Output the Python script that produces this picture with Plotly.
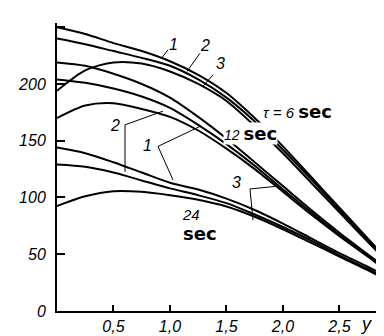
import plotly.graph_objects as go

y_pos = [0, 0.25, 0.5, 0.75, 1.0, 1.25, 1.5, 1.75, 2.0, 2.25, 2.5, 2.75, 2.965]

# tau = 6 sec
t6_c1 = [250, 244, 236, 229, 220, 208, 192, 170, 145, 118, 91, 64, 41]
t6_c2 = [240, 235, 229, 223, 216, 204, 188, 167, 142, 116, 89, 63, 40]
t6_c3 = [194, 212, 219, 218, 211, 200, 185, 163, 139, 113, 87, 61, 39]
# tau = 12 sec
t12_c1 = [219, 216, 209, 200, 188, 171, 152, 131, 110, 89, 69, 50, 34]
t12_c2 = [204, 201, 196, 189, 179, 164, 147, 128, 107, 87, 67, 49, 33]
t12_c3 = [170, 181, 183, 178, 171, 159, 143, 125, 105, 85, 66, 48, 32]
# tau = 24 sec
t24_c1 = [144, 139, 131, 122, 113, 107, 99, 89, 77, 64, 51, 39, 28]
t24_c2 = [129, 127, 122, 115, 108, 102, 95, 85, 74, 62, 49, 37, 26]
t24_c3 = [92.5, 101, 105.5, 105, 102, 98, 92, 83, 72, 60, 48, 36, 25]

x_ticks = [0.5, 1.0, 1.5, 2.0, 2.5]
x_ticktext = ["0,5", "1,0", "1,5", "2,0", "2,5"]
y_ticks = [0, 50, 100, 150, 200, 250]
y_ticktext = ["0", "50", "100", "150", "200", ""]

series = [t6_c1, t6_c2, t6_c3, t12_c1, t12_c2, t12_c3, t24_c1, t24_c2, t24_c3]

fig = go.Figure()
for s in series:
    fig.add_trace(go.Scatter(x=y_pos, y=s, mode="lines",
                             line=dict(color="black", width=2, shape="spline", smoothing=0.8),
                             showlegend=False, hoverinfo="skip"))

FONT = "Liberation Sans, Arial, sans-serif"
tick_font = dict(family=FONT, size=16, color="black", style="italic")

fig.update_layout(
    width=384, height=336,
    margin=dict(l=49, r=0, t=15, b=33),
    paper_bgcolor="white", plot_bgcolor="white",
    xaxis=dict(range=[0, 2.965], showgrid=False, zeroline=False,
               showline=True, linecolor="black", linewidth=2,
               ticks="inside", ticklen=6, tickwidth=1.5, tickcolor="black",
               tickvals=x_ticks, ticktext=x_ticktext, tickfont=tick_font),
    yaxis=dict(range=[0, 253.7], showgrid=False, zeroline=False,
               showline=True, linecolor="black", linewidth=2,
               ticks="inside", ticklen=8, tickwidth=1.5, tickcolor="black",
               tickvals=y_ticks, ticktext=y_ticktext, tickfont=tick_font,
               ticklabelstandoff=6),
)

label_font = dict(family=FONT, size=16, color="black", style="italic")

num_labels = [
    ("1", 1.035, 235), ("2", 1.31, 234), ("3", 1.443, 217.6),
    ("2", 0.513, 163), ("1", 0.805, 146), ("3", 1.593, 112.8),
]
for t, x, y in num_labels:
    fig.add_annotation(x=x, y=y, text=t, showarrow=False, font=label_font)

leaders = [
    (0.982, 230, 0.920, 222),
    (1.265, 227, 1.150, 211),
    (1.381, 208, 1.292, 198),
    (0.602, 164, 0.938, 176),
    (0.602, 164, 0.602, 122.5),
    (0.894, 145, 1.274, 163),
    (0.894, 145, 1.027, 115.4),
    (1.708, 107.5, 1.956, 110),
    (1.708, 107.5, 1.735, 80),
]
for x0, y0, x1, y1 in leaders:
    fig.add_shape(type="line", x0=x0, y0=y0, x1=x1, y1=y1,
                  line=dict(color="black", width=1))

sec = "<span style='font-family:DejaVu Sans, sans-serif;font-size:18px'><b>sec</b></span>"
fig.add_annotation(x=2.13, y=176, showarrow=False,
                   text="<i>τ = 6</i> " + sec, font=dict(family=FONT, size=15, color="black"))
fig.add_annotation(x=1.71, y=156, showarrow=False, bgcolor="white", borderpad=0,
                   text="<i>12</i> " + sec, font=dict(family=FONT, size=14, color="black"))
fig.add_annotation(x=1.09, y=76, showarrow=False, xanchor="left", align="left",
                   text="<i>24</i><br>" + sec, font=dict(family=FONT, size=15, color="black"))
fig.add_annotation(x=(358 - 49) / 113, y=-0.045, xref="x", yref="paper",
                   showarrow=False, yanchor="middle",
                   text="<i>y</i>", font=dict(family=FONT, size=18, color="black"))

fig.write_html("out.html")
